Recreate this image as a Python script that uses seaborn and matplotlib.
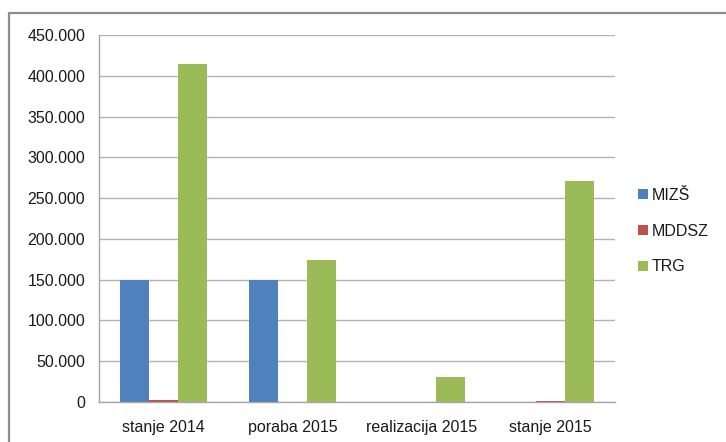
import pandas as pd
import numpy as np
import seaborn as sns
import matplotlib
matplotlib.use("Agg")
import matplotlib.pyplot as plt
from matplotlib.ticker import FuncFormatter, FixedLocator
from matplotlib.lines import Line2D

# data
categories = ["stanje 2014", "poraba 2015", "realizacija 2015", "stanje 2015"]
mizs = [150000, 150000, 0, 0]
mddsz = [2500, 0, 0, 1500]
trg = [415000, 174000, 30500, 271000]
series = ["MIZŠ", "MDDSZ", "TRG"]
colors = ["#4F81BD", "#C0504D", "#9BBB59"]

df = pd.DataFrame({
    "kat": categories * 3,
    "serija": [s for s in series for _ in categories],
    "vrednost": mizs + mddsz + trg,
})

sns.set_style("white")
plt.rcParams["font.family"] = ["Liberation Sans", "DejaVu Sans"]

fig = plt.figure(figsize=(7.26, 4.42), dpi=100)
ax = fig.add_axes([99 / 726, 40 / 442, 516 / 726, 367 / 442])

sns.barplot(data=df, x="kat", y="vrednost", hue="serija", palette=colors,
            hue_order=series, order=categories, width=0.675, ax=ax,
            saturation=1, errorbar=None, legend=True, linewidth=0)

ax.set_ylim(0, 450000)
ax.set_xlim(-0.5, 3.5)
ax.set_yticks(np.arange(0, 450001, 50000))
ax.yaxis.set_major_formatter(FuncFormatter(lambda v, p: f"{int(v):,}".replace(",", ".")))
ax.grid(axis="y", color="#b3b3b3", lw=1)
ax.set_axisbelow(True)
ax.set_xlabel("")
ax.set_ylabel("")

# category separators as ticks like the original
ax.xaxis.set_minor_locator(FixedLocator([-0.5, 0.5, 1.5, 2.5, 3.5]))
ax.tick_params(axis="x", which="major", length=0, pad=13, labelsize=11.5, colors="#1a1a1a")
ax.tick_params(axis="x", which="minor", length=5, color="#a6a6a6", width=1)
ax.tick_params(axis="y", length=5, color="#a6a6a6", width=1, pad=5, labelsize=11.5,
               colors="#1a1a1a")
ax.tick_params(axis="y", color="#a6a6a6")

for side in ["top", "right"]:
    ax.spines[side].set_visible(False)
for side in ["left", "bottom"]:
    ax.spines[side].set_color("#a6a6a6")
    ax.spines[side].set_linewidth(1)

leg = ax.legend(loc="center left", bbox_to_anchor=(624 / 726, 1 - 231 / 442),
                bbox_transform=fig.transFigure, frameon=False,
                handlelength=0.6, handleheight=0.6, handletextpad=0.25,
                labelspacing=1.3, fontsize=11.5)
for t in leg.get_texts():
    t.set_color("#1a1a1a")

# outer chart frame (top + left visible)
fig.add_artist(Line2D([9 / 726, 9 / 726], [0, 1 - 13 / 442], color="#8c8c8c", lw=1.6,
                      transform=fig.transFigure))
fig.add_artist(Line2D([9 / 726, 1], [1 - 13 / 442, 1 - 13 / 442], color="#8c8c8c", lw=1.6,
                      transform=fig.transFigure))

fig.savefig("out.png", dpi=100)
